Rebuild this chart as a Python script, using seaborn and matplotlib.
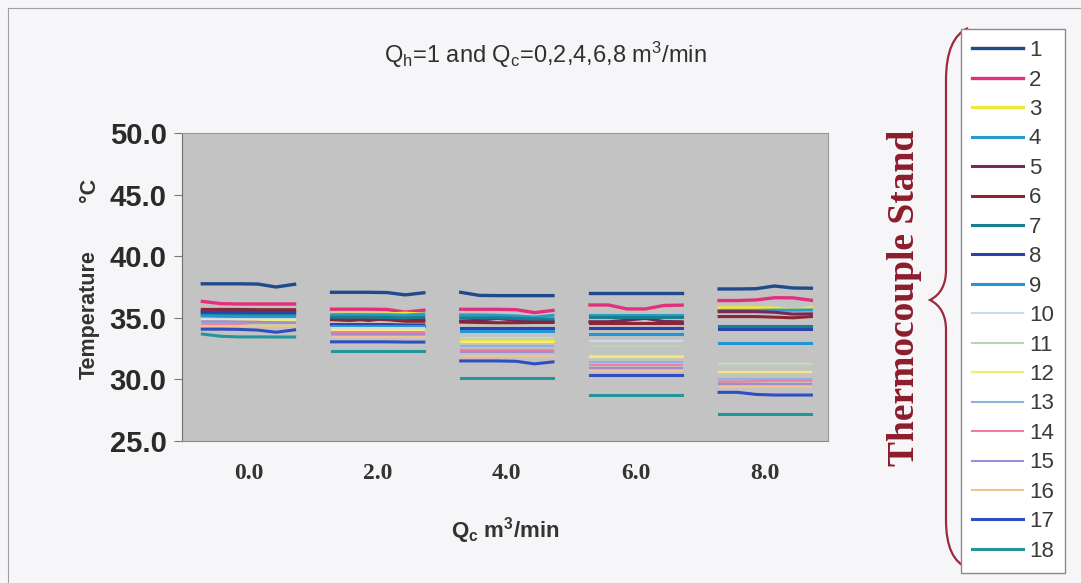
import numpy as np
import pandas as pd
import matplotlib
matplotlib.use('Agg')
import matplotlib.pyplot as plt
import seaborn as sns
from matplotlib.path import Path
from matplotlib.patches import PathPatch
from matplotlib.lines import Line2D

# flow rates of the cold stream, one block of readings each
qc_values = [0.0, 2.0, 4.0, 6.0, 8.0]
samples = [0, 1, 2, 3, 4, 5]
stands = [str(i) for i in range(1, 19)]

colors = ['#1f4a8c', '#e3307c', '#efe835', '#2a9bc4', '#74285e', '#8a2634',
          '#16808e', '#2a44a8', '#2397d6', '#c9dbe6', '#bdd2b0', '#f1ec78',
          '#8fb0e0', '#ef7ea2', '#a08cd2', '#f0c28e', '#2f4fc0', '#23969c']
widths = [2.4, 2.4, 2.2, 2.2, 2.2, 2.2, 2.2, 2.2, 2.2,
          1.5, 1.5, 1.6, 1.5, 1.5, 1.5, 1.5, 2.2, 2.2]

# temperatures (deg C) per stand, six readings per block
temps_q0 = [
    [37.76, 37.76, 37.76, 37.74, 37.50, 37.72],
    [36.33, 36.15, 36.12, 36.12, 36.12, 36.12],
    [35.00, 35.00, 35.00, 34.98, 34.98, 34.98],
    [35.38, 35.38, 35.36, 35.36, 35.35, 35.35],
    [35.55, 35.56, 35.55, 35.55, 35.55, 35.54],
    [35.68, 35.68, 35.68, 35.66, 35.66, 35.66],
    [35.25, 35.25, 35.25, 35.25, 35.24, 35.24],
    [35.45, 35.45, 35.45, 35.44, 35.44, 35.44],
    [35.15, 35.12, 35.10, 35.10, 35.10, 35.10],
    [34.90, 34.90, 34.90, 34.90, 34.90, 34.90],
    [34.40, 34.40, 34.40, 34.40, 34.40, 34.40],
    [34.85, 34.85, 34.85, 34.85, 34.85, 34.85],
    [34.55, 34.55, 34.55, 34.55, 34.55, 34.55],
    [34.45, 34.45, 34.50, 34.62, 34.65, 34.62],
    [34.72, 34.72, 34.70, 34.68, 34.60, 34.60],
    [34.30, 34.30, 34.30, 34.30, 34.30, 34.30],
    [34.08, 34.08, 34.06, 34.00, 33.83, 34.02],
    [33.68, 33.50, 33.45, 33.45, 33.44, 33.44],
]
temps_q2 = [
    [37.07, 37.07, 37.07, 37.05, 36.86, 37.03],
    [35.70, 35.70, 35.70, 35.68, 35.46, 35.62],
    [35.30, 35.30, 35.30, 35.32, 35.38, 35.30],
    [35.25, 35.26, 35.25, 35.25, 35.22, 35.30],
    [34.95, 34.95, 34.78, 34.95, 34.90, 34.85],
    [34.85, 34.78, 34.90, 34.85, 34.72, 34.72],
    [35.05, 35.05, 35.05, 35.03, 35.00, 35.05],
    [34.45, 34.45, 34.45, 34.45, 34.42, 34.42],
    [34.30, 34.30, 34.30, 34.30, 34.30, 34.30],
    [34.15, 34.15, 34.15, 34.15, 34.15, 34.15],
    [33.95, 33.95, 33.95, 33.95, 33.95, 33.95],
    [34.05, 34.05, 34.05, 34.05, 34.05, 34.05],
    [33.60, 33.60, 33.60, 33.60, 33.60, 33.60],
    [33.82, 33.82, 33.82, 33.82, 33.82, 33.82],
    [33.72, 33.72, 33.72, 33.72, 33.72, 33.72],
    [33.45, 33.45, 33.45, 33.45, 33.45, 33.45],
    [33.05, 33.05, 33.05, 33.05, 33.03, 33.03],
    [32.27, 32.27, 32.27, 32.27, 32.27, 32.27],
]
temps_q4 = [
    [37.07, 36.82, 36.80, 36.80, 36.80, 36.80],
    [35.69, 35.69, 35.69, 35.66, 35.42, 35.60],
    [33.10, 33.10, 33.10, 33.10, 33.10, 33.10],
    [35.23, 35.23, 35.20, 35.15, 35.05, 35.20],
    [34.74, 34.80, 34.95, 34.80, 34.74, 34.70],
    [34.65, 34.62, 34.60, 34.60, 34.62, 34.62],
    [35.00, 35.00, 35.00, 34.95, 34.90, 34.90],
    [34.20, 34.20, 34.20, 34.20, 34.20, 34.20],
    [33.90, 33.90, 33.90, 33.90, 33.90, 33.90],
    [33.40, 33.40, 33.40, 33.40, 33.40, 33.40],
    [33.25, 33.25, 33.25, 33.25, 33.25, 33.25],
    [33.00, 33.00, 33.00, 33.00, 33.00, 33.00],
    [32.75, 32.75, 32.75, 32.75, 32.75, 32.75],
    [32.40, 32.40, 32.40, 32.40, 32.40, 32.40],
    [32.25, 32.25, 32.25, 32.25, 32.25, 32.25],
    [31.92, 31.92, 31.92, 31.92, 31.92, 31.92],
    [31.50, 31.50, 31.50, 31.47, 31.26, 31.42],
    [30.15, 30.15, 30.15, 30.15, 30.15, 30.15],
]
temps_q6 = [
    [37.00, 37.00, 37.00, 37.00, 37.00, 37.00],
    [36.04, 36.04, 35.72, 35.72, 36.00, 36.03],
    [31.90, 31.90, 31.90, 31.90, 31.90, 31.90],
    [35.20, 35.20, 35.20, 35.20, 35.20, 35.20],
    [34.68, 34.68, 34.80, 34.96, 34.70, 34.68],
    [34.60, 34.60, 34.60, 34.60, 34.60, 34.60],
    [35.08, 35.08, 35.08, 35.08, 35.08, 35.08],
    [34.15, 34.15, 34.15, 34.15, 34.15, 34.15],
    [33.68, 33.68, 33.68, 33.68, 33.68, 33.68],
    [33.10, 33.10, 33.10, 33.10, 33.10, 33.10],
    [32.70, 32.70, 32.70, 32.70, 32.70, 32.70],
    [31.80, 31.80, 31.80, 31.80, 31.80, 31.80],
    [31.40, 31.40, 31.40, 31.40, 31.40, 31.40],
    [31.17, 31.17, 31.17, 31.17, 31.17, 31.17],
    [30.92, 30.92, 30.92, 30.92, 30.92, 30.92],
    [30.68, 30.68, 30.68, 30.68, 30.68, 30.68],
    [30.38, 30.38, 30.38, 30.38, 30.38, 30.38],
    [28.75, 28.75, 28.75, 28.75, 28.75, 28.75],
]
temps_q8 = [
    [37.34, 37.34, 37.36, 37.58, 37.42, 37.40],
    [36.40, 36.40, 36.45, 36.63, 36.62, 36.42],
    [35.82, 35.82, 35.82, 35.80, 35.62, 35.82],
    [35.60, 35.60, 35.60, 35.62, 35.62, 35.64],
    [35.50, 35.50, 35.50, 35.45, 35.30, 35.32],
    [35.10, 35.10, 35.10, 35.05, 35.00, 35.10],
    [34.36, 34.36, 34.36, 34.36, 34.36, 34.36],
    [34.10, 34.10, 34.10, 34.10, 34.10, 34.10],
    [32.93, 32.93, 32.93, 32.93, 32.93, 32.93],
    [31.28, 31.28, 31.28, 31.28, 31.28, 31.28],
    [31.15, 31.15, 31.15, 31.15, 31.15, 31.15],
    [30.58, 30.58, 30.58, 30.58, 30.58, 30.58],
    [30.05, 30.05, 30.05, 30.05, 30.05, 30.05],
    [29.82, 29.82, 29.85, 29.90, 29.90, 29.90],
    [29.62, 29.62, 29.62, 29.62, 29.62, 29.62],
    [29.35, 29.35, 29.35, 29.35, 29.35, 29.35],
    [28.95, 28.95, 28.78, 28.73, 28.73, 28.73],
    [27.17, 27.17, 27.17, 27.17, 27.17, 27.17],
]
blocks = [temps_q0, temps_q2, temps_q4, temps_q6, temps_q8]

# long table: one row per reading, x is the running sample index with a gap between blocks
rows = []
for g, block in enumerate(blocks):
    for i, name in enumerate(stands):
        for s in samples:
            rows.append({'stand': name, 'qc': qc_values[g],
                         'x': g * 14 + s * 2, 'temp': block[i][s]})
df = pd.DataFrame(rows)

plt.rcParams['font.family'] = ['Liberation Sans', 'DejaVu Sans']
plt.rcParams['mathtext.fontset'] = 'custom'
plt.rcParams['mathtext.rm'] = 'Liberation Sans'
plt.rcParams['mathtext.it'] = 'Liberation Sans'
plt.rcParams['mathtext.bf'] = 'Liberation Sans:bold'

fig = plt.figure(figsize=(10.81, 5.83), dpi=100, facecolor='#f6f6f8')
ax = fig.add_axes([182 / 1081, 1 - 441 / 583, 646 / 1081, 308 / 583])
ax.set_facecolor('#c3c3c3')

for i, name in enumerate(stands):
    sns.lineplot(data=df[df.stand == name], x='x', y='temp', units='qc',
                 estimator=None, color=colors[i], lw=widths[i], ax=ax,
                 legend=False)

ax.set_xlim(-2.2, 67.8)
ax.set_ylim(25, 50)
ax.set_yticks([25, 30, 35, 40, 45, 50])
ax.set_yticklabels(['%.1f' % v for v in [25, 30, 35, 40, 45, 50]],
                   fontsize=21, fontweight='bold', color='#2a2a2a')
ax.set_xticks([g * 14 + 5 for g in range(len(qc_values))])
ax.set_xticklabels(['%.1f' % q for q in qc_values], family='Liberation Serif',
                   fontsize=17, fontweight='bold', color='#333333')
ax.tick_params(axis='x', length=0, pad=16)
ax.tick_params(axis='y', length=6, color='#777777', pad=5)
ax.set_xlabel(r'Q$_\mathbf{c}$ m$^\mathbf{3}$/min', fontsize=16, fontweight='bold',
              color='#333333', labelpad=22)
ax.set_ylabel('')
for side in ['top', 'right']:
    ax.spines[side].set_color('#9a9a9a')
    ax.spines[side].set_linewidth(0.8)
ax.spines['left'].set_color('#6e6e6e')
ax.spines['bottom'].set_color('#8a8a8a')

# y axis caption in two pieces, as in the original
fig.text(89 / 1081, 1 - 315 / 583, 'Temperature', rotation=90, ha='center',
         va='center', fontsize=15.5, fontweight='bold', color='#333333')
fig.text(89 / 1081, 1 - 190 / 583, '\u00b0C', rotation=90, ha='center',
         va='center', fontsize=15.5, fontweight='bold', color='#333333')

fig.text(0.504, 0.906, r'Q$_\mathrm{h}$=1 and Q$_\mathrm{c}$=0,2,4,6,8 m$^\mathrm{3}$/min',
         ha='center', va='center', fontsize=17, color='#303030')

# legend box on the right
handles = [Line2D([0], [0], color=colors[i], lw=widths[i]) for i in range(len(stands))]
fig.legend(handles, stands, loc='upper left', bbox_to_anchor=(961 / 1081, 1 - 29 / 583),
           fontsize=16, labelcolor='#3a3a3a', frameon=True, fancybox=False,
           edgecolor='#8a8a8a', facecolor='white', framealpha=1,
           handlelength=2.3, handletextpad=0.25, labelspacing=0.38,
           borderpad=0.5, borderaxespad=0)

# curly brace linking the legend to the caption
def px(x, y):
    return (x / 1081, 1 - y / 583)

verts = [px(968, 28), px(946, 38), px(946, 80), px(946, 270), px(946, 292),
         px(930, 300), px(946, 308), px(946, 330), px(946, 520), px(946, 560),
         px(968, 568)]
codes = [Path.MOVETO, Path.CURVE3, Path.CURVE3, Path.LINETO, Path.CURVE3,
         Path.CURVE3, Path.CURVE3, Path.CURVE3, Path.LINETO, Path.CURVE3,
         Path.CURVE3]
fig.patches.append(PathPatch(Path(verts, codes), transform=fig.transFigure,
                             fill=False, edgecolor='#9a2a3c', lw=1.6))
fig.text(905 / 1081, 1 - 298 / 583, 'Thermocouple Stand', rotation=90,
         ha='center', va='center', family='Liberation Serif', fontweight='bold',
         fontsize=27, color='#8c1c2c')

# outer chart frame
fig.add_artist(Line2D([8 / 1081, 8 / 1081], [0, 1 - 8 / 583], transform=fig.transFigure,
                      color='#a0a0a0', lw=0.8))
fig.add_artist(Line2D([8 / 1081, 1], [1 - 8 / 583, 1 - 8 / 583], transform=fig.transFigure,
                      color='#a0a0a0', lw=0.8))

fig.savefig('out.png', dpi=100, facecolor=fig.get_facecolor())
